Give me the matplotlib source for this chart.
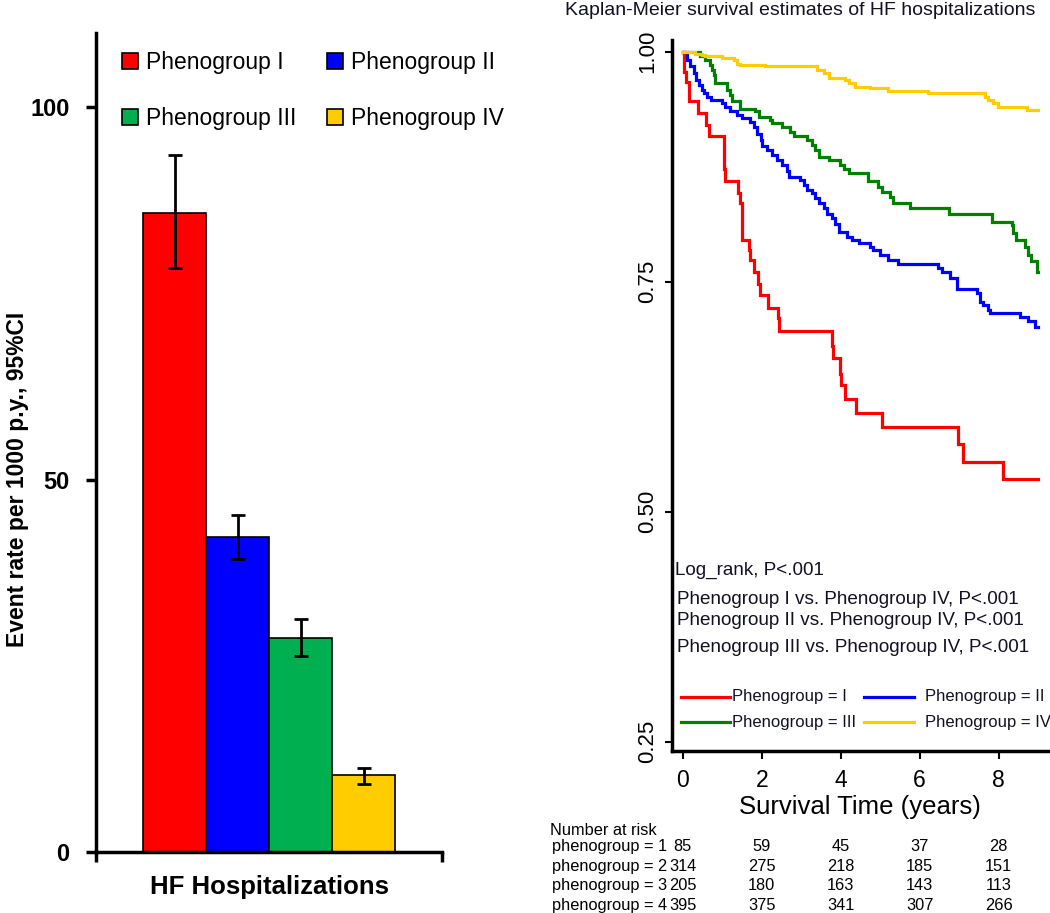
import numpy as np
import matplotlib
matplotlib.use("Agg")
import matplotlib.pyplot as plt
import matplotlib.transforms as mtransforms
from matplotlib.patches import Patch
from matplotlib.lines import Line2D

plt.rcParams['font.family'] = ['Liberation Sans', 'DejaVu Sans']

# ---------------- data: bar chart ----------------
groups = ['Phenogroup I', 'Phenogroup II', 'Phenogroup III', 'Phenogroup IV']
bar_colors = ['#FF0000', '#0000FF', '#00B050', '#FFCC00']
event_rate = [85.8, 42.3, 28.7, 10.3]
ci_low = [78.4, 39.3, 26.3, 9.2]
ci_high = [93.6, 45.3, 31.3, 11.3]
bar_category = 'HF Hospitalizations'
bar_yticks = [0, 50, 100]

# ---------------- data: Kaplan-Meier ----------------
km_labels = ['Phenogroup = I', 'Phenogroup = II', 'Phenogroup = III', 'Phenogroup = IV']
km_colors = ['#FF0000', '#0000FF', '#008000', '#FFCC00']

red_t = [0, 0.025, 0.084, 0.15, 0.39, 0.60, 0.67, 1.04, 1.08, 1.39, 1.46, 1.50, 1.67, 1.71,
         1.80, 1.91, 1.96, 2.17, 2.42, 2.45, 3.77, 3.81, 3.98, 4.02, 4.11, 4.40, 5.04, 6.96,
         7.10, 8.12, 9.0]
red_s = [1.0, .978, .967, .946, .933, .920, .908, .873, .859, .846, .835, .795, .784, .774,
         .761, .748, .736, .721, .710, .696, .680, .667, .650, .638, .623, .607, .592, .574,
         .554, .535, .535]

blue_t = [0, .109, .193, .278, .337, .404, .489, .531, .615, .725, .995, 1.08, 1.21, 1.37,
          1.50, 1.71, 1.80, 1.88, 1.97, 2.01, 2.13, 2.26, 2.39, 2.51, 2.64, 2.68, 2.98, 3.06,
          3.15, 3.27, 3.36, 3.44, 3.57, 3.65, 3.78, 3.86, 3.95, 4.16, 4.29, 4.46, 4.74, 4.83,
          4.99, 5.21, 5.46, 6.47, 6.56, 6.77, 6.94, 7.44, 7.53, 7.61, 7.74, 7.78, 8.54, 8.75,
          8.92, 9.0]
blue_s = [1.0, .991, .984, .977, .969, .964, .958, .955, .951, .947, .944, .940, .935, .931,
          .928, .924, .918, .911, .904, .897, .893, .888, .882, .877, .870, .864, .861, .855,
          .850, .846, .841, .835, .830, .824, .819, .813, .804, .799, .795, .792, .788, .784,
          .779, .774, .769, .765, .760, .754, .742, .738, .728, .725, .719, .716, .712, .707,
          .701, .701]

green_t = [0, .446, .572, .699, .742, .785, .826, 1.12, 1.21, 1.25, 1.46, 1.84, 1.92, 2.22,
           2.26, 2.51, 2.72, 2.81, 3.15, 3.27, 3.36, 3.44, 3.70, 3.99, 4.08, 4.20, 4.68, 4.70,
           4.95, 5.05, 5.25, 5.33, 5.75, 6.75, 7.82, 8.33, 8.37, 8.43, 8.67, 8.75, 8.83, 8.96,
           9.0]
green_s = [1.0, .995, .991, .986, .980, .975, .966, .958, .953, .946, .938, .935, .929, .926,
           .922, .918, .913, .908, .904, .899, .893, .886, .882, .877, .873, .868, .864, .859,
           .853, .848, .842, .835, .830, .824, .815, .812, .803, .795, .788, .779, .773, .761,
           .761]

yellow_t = [0, .32, .49, .572, .995, 1.29, 1.37, 1.46, 2.09, 3.40, 3.57, 3.70, 4.12, 4.20,
            4.37, 4.74, 5.21, 6.22, 7.65, 7.74, 7.86, 7.99, 8.71, 9.0]
yellow_s = [1.0, .998, .996, .995, .993, .991, .987, .986, .984, .980, .977, .971, .969, .966,
            .962, .960, .957, .955, .951, .947, .944, .940, .937, .937]

km_xticks = [0, 2, 4, 6, 8]
km_yticks = [0.25, 0.50, 0.75, 1.00]
km_ytick_labels = ['0.25', '0.50', '0.75', '1.00']

risk_times = [0, 2, 4, 6, 8]
risk_labels = ['phenogroup = 1', 'phenogroup = 2', 'phenogroup = 3', 'phenogroup = 4']
risk_1 = [85, 59, 45, 37, 28]
risk_2 = [314, 275, 218, 185, 151]
risk_3 = [205, 180, 163, 143, 113]
risk_4 = [395, 375, 341, 307, 266]

stats_lines = ['Log_rank, P<.001',
               'Phenogroup I vs. Phenogroup IV, P<.001',
               'Phenogroup II vs. Phenogroup IV, P<.001',
               'Phenogroup III vs. Phenogroup IV, P<.001']

# ---------------- figure ----------------
W, H = 1050, 913
fig = plt.figure(figsize=(W / 100, H / 100), dpi=100)
fig.patch.set_facecolor('white')


def fx(px):
    return px / W


def fy(py):
    return 1 - py / H


# ---------------- left: bar chart ----------------
ax1 = fig.add_axes([fx(96), fy(852), (442 - 96) / W, (852 - 33) / H])
xpos = np.arange(len(groups))
rate = np.array(event_rate)
ax1.bar(xpos, rate, width=1.0, color=bar_colors, edgecolor='black', linewidth=1.2, zorder=2)
ax1.errorbar(xpos, rate, yerr=[rate - np.array(ci_low), np.array(ci_high) - rate],
             fmt='none', ecolor='black', elinewidth=2, capsize=5, capthick=2, zorder=3)
ax1.set_xlim(-1.249, 4.24)
ax1.set_ylim(0, 110)
for s in ['top', 'right']:
    ax1.spines[s].set_visible(False)
for s in ['left', 'bottom']:
    ax1.spines[s].set_linewidth(2.5)
ax1.set_yticks(bar_yticks)
ax1.set_yticklabels([str(v) for v in bar_yticks], fontweight='bold', fontsize=17)
ax1.tick_params(axis='y', direction='out', length=7, width=2.5, pad=12)
ax1.set_xticks([-1.249, 4.24])
ax1.set_xticklabels(['', ''])
ax1.tick_params(axis='x', direction='out', length=7, width=2.5)
ax1.text(1.5, -0.028, bar_category,
         transform=mtransforms.blended_transform_factory(ax1.transData, ax1.transAxes),
         ha='center', va='top', fontsize=18.5, fontweight='bold')
ax1.set_ylabel('Event rate per 1000 p.y., 95%CI', fontsize=16.5, fontweight='bold')
ax1.yaxis.set_label_coords(-0.195, 0.455)

order = [0, 2, 1, 3]
handles = [Patch(facecolor=bar_colors[i], edgecolor='black', linewidth=1.2, label=groups[i])
           for i in order]
ax1.legend(handles=handles, ncol=2, loc='upper left', bbox_to_anchor=(0.075, 0.978),
           frameon=False, fontsize=16.5, handlelength=0.7, handleheight=0.7,
           handletextpad=0.35, columnspacing=1.35, labelspacing=1.42, borderpad=0,
           borderaxespad=0)

# ---------------- right: Kaplan-Meier ----------------
ax2 = fig.add_axes([fx(672), fy(751), (1048 - 672) / W, (751 - 40) / H])
curves = [(red_t, red_s), (blue_t, blue_s), (green_t, green_s), (yellow_t, yellow_s)]
for (t, s), c in zip(curves, km_colors):
    ax2.step(t, s, where='post', color=c, linewidth=2.3, solid_joinstyle='miter')
ax2.set_xlim(-0.271, 9.249)
ax2.set_ylim(0.2399, 1.0127)
for s in ['top', 'right']:
    ax2.spines[s].set_visible(False)
for s in ['left', 'bottom']:
    ax2.spines[s].set_linewidth(2.5)
ax2.set_xticks(km_xticks)
ax2.set_xticklabels([str(v) for v in km_xticks], fontsize=16.5)
ax2.set_yticks(km_yticks)
ax2.set_yticklabels(km_ytick_labels, fontsize=16, rotation=90, va='center')
ax2.tick_params(axis='x', direction='out', length=6, width=1.5, pad=7)
ax2.tick_params(axis='y', direction='out', length=5, width=1.5, pad=5)
ax2.set_xlabel('Survival Time (years)', fontsize=18.5, labelpad=2)

fig.text(fx(800), fy(15), 'Kaplan-Meier survival estimates of HF hospitalizations',
         ha='center', va='baseline', fontsize=14, color='#111122')

# statistics text
stat_y = [570.7, 599.3, 620.7, 647.3]
stat_x = [675, 677, 677, 677]
for txt, x, y in zip(stats_lines, stat_x, stat_y):
    fig.text(fx(x), fy(y), txt, ha='left', va='center', fontsize=13.6, color='#111122')

# KM legend
leg_rows = [696.7, 722.3]
leg_cols = [(680.7, 730, 731.7), (864, 914, 925)]
for i, (lab, c) in enumerate(zip(km_labels, km_colors)):
    row = i // 2
    col = i % 2
    x0, x1, xt = leg_cols[col]
    y = leg_rows[row]
    fig.add_artist(Line2D([fx(x0), fx(x1)], [fy(y), fy(y)], transform=fig.transFigure,
                          color=c, linewidth=2.3))
    fig.text(fx(xt), fy(y), lab, ha='left', va='center', fontsize=12, color='#111122')

# Number at risk table
fig.text(fx(550), fy(830), 'Number at risk', ha='left', va='center', fontsize=11.8)
row_y = [846.7, 866.7, 885.7, 905]
trans = mtransforms.blended_transform_factory(ax2.transData, fig.transFigure)
for lab, vals, y in zip(risk_labels, [risk_1, risk_2, risk_3, risk_4], row_y):
    fig.text(fx(551.5), fy(y), lab, ha='left', va='center', fontsize=11.8)
    for t, v in zip(risk_times, vals):
        fig.text(t, fy(y), str(v), transform=trans, ha='center', va='center', fontsize=11.8)

fig.savefig('out.png', dpi=100, facecolor='white')
